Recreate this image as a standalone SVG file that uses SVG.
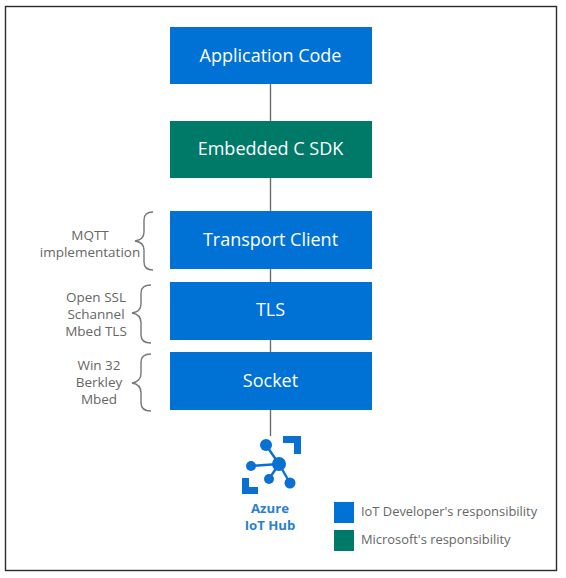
<svg xmlns="http://www.w3.org/2000/svg" width="566" height="578" viewBox="0 0 566 578">
<style>
text{font-family:"Open Sans","Noto Sans","Liberation Sans",sans-serif;text-anchor:middle}
.b{fill:#0072d6}.g{fill:#007a68}
.t{fill:#fff;font-size:18px}
.s{fill:#666;font-size:13.5px}
.l{fill:#666;font-size:12.9px;text-anchor:start}
.c{fill:none;stroke:#777;stroke-width:1.4}
.i{fill:#0a70d2}
.e{stroke:#0a70d2;stroke-width:2.4;fill:none}
.h{fill:#2a7fd0;font-size:13.2px;font-weight:700}
</style>
<rect x="5.500" y="6.500" width="551" height="564" fill="#fff" stroke="#2b2b2b" stroke-width="1.400"/>
<g id="connectors" fill="none" stroke="#6e6e6e" stroke-width="1.400">
<path d="M270.500 84V121M270.500 178V211M270.500 269V282M270.500 340V352M270.500 410V436"/>
</g>
<g id="app-code"><rect class="b" x="170" y="27" width="202" height="57"/><text class="t" x="270.500" y="62">Application Code</text></g>
<g id="sdk"><rect class="g" x="170" y="121" width="202" height="57"/><text class="t" x="270.500" y="155">Embedded C SDK</text></g>
<g id="transport"><rect class="b" x="170" y="211" width="202" height="58"/><text class="t" x="270.500" y="246">Transport Client</text></g>
<g id="tls"><rect class="b" x="170" y="282" width="202" height="58"/><text class="t" x="270.500" y="316">TLS</text></g>
<g id="socket"><rect class="b" x="170" y="352" width="202" height="58"/><text class="t" x="270.500" y="387">Socket</text></g>
<g id="mqtt-note"><path class="c" d="M153 212C146 212 144 215 144 220V232C144 237 142 240 135 241C142 242 144 245 144 250V262C144 267 146 270 153 270"/><text class="s"><tspan x="90" y="240">MQTT</tspan><tspan x="90" y="257">implementation</tspan></text></g>
<g id="tls-note"><path class="c" d="M151 285C144 285 141 288 141 293V304C141 309 139 312 132 313C139 314 141 318 141 323V335C141 340 144 343 151 343"/><text class="s"><tspan x="96" y="302">Open SSL</tspan><tspan x="96" y="319">Schannel</tspan><tspan x="96" y="336">Mbed TLS</tspan></text></g>
<g id="socket-note"><path class="c" d="M151 354C144 354 141 357 141 362V373C141 378 139 382 132 383C139 384 141 388 141 393V403C141 408 144 411 151 411"/><text class="s"><tspan x="99" y="370">Win 32</tspan><tspan x="99" y="387">Berkley</tspan><tspan x="99" y="404">Mbed</tspan></text></g>
<g id="iot-hub">
<path class="i" d="M283 436H301V454H294V443H283ZM242 478H249V487H258V494H242Z"/>
<path class="e" d="M266 445L279 464M251 466L279 464M279 464L269 479M279 464L290 483"/>
<circle class="i" cx="266" cy="445" r="6"/><circle class="i" cx="251" cy="466" r="5"/><circle class="i" cx="279" cy="464" r="7"/><circle class="i" cx="269" cy="479" r="5"/><circle class="i" cx="290" cy="483" r="5.500"/>
<text class="h"><tspan x="270" y="512.500">Azure</tspan><tspan x="270" y="529.500">IoT Hub</tspan></text>
</g>
<g id="legend-dev"><rect class="b" x="334" y="502" width="20" height="21"/><text class="l" x="361" y="516">IoT Developer's responsibility</text></g>
<g id="legend-ms"><rect class="g" x="334" y="530" width="20" height="21"/><text class="l" x="361" y="544">Microsoft's responsibility</text></g>
</svg>
